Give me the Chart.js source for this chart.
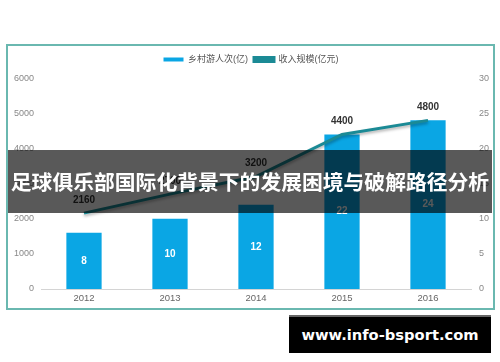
<!DOCTYPE html>
<html>
<head>
<meta charset="utf-8">
<script src="https://cdn.jsdelivr.net/npm/chart.js@4.4.1/dist/chart.umd.min.js"></script>
<style>
  html, body { margin: 0; padding: 0; background: #fff; }
  #wrap { position: relative; width: 500px; height: 362px; overflow: hidden; }
  #frame { position: absolute; left: 6px; top: 44px; width: 485px; height: 262px; border: 2px solid #6ab8b0; }
  #chart { position: absolute; left: 0; top: 0; }
  #banner {
    position: absolute; left: 8px; top: 150px; width: 484px; height: 63px;
    background: rgba(0, 0, 0, 0.65); color: #fff; text-align: center; white-space: nowrap;
    font: 700 20.8px "Noto Sans CJK SC", sans-serif; line-height: 63px;
  }
  #mark {
    position: absolute; left: 289px; top: 315px; width: 202px; height: 36px;
    background: #000; border-top: 2px solid #666; color: #fff; text-align: center;
    font: 700 14.7px "DejaVu Sans", sans-serif; line-height: 36px;
  }
</style>
</head>
<body>
<div id="wrap">
  <div id="frame"></div>
  <canvas id="chart" width="500" height="362"></canvas>
  <div id="banner">足球俱乐部国际化背景下的发展困境与破解路径分析</div>
  <div id="mark">www.info-bsport.com</div>
</div>
<script>
const years = ['2012', '2013', '2014', '2015', '2016'];
const visitors = [8, 10, 12, 22, 24];            // 乡村游人次(亿)
const revenue = [2160, 2700, 3200, 4400, 4800];  // 收入规模(亿元)
const leftTicks = [0, 1000, 2000, 3000, 4000, 5000, 6000];
const rightTicks = [0, 5, 10, 15, 20, 25, 30];

const barColor = '#0aa6e4';
const lineColor = '#1b8a95';

Chart.defaults.font.family = '"Liberation Sans", "Noto Sans CJK SC", sans-serif';

// sombra suave bajo la línea
const lineShadow = {
  id: 'lineShadow',
  beforeDatasetDraw(chart, args) {
    if (args.index !== 1) return;
    const ctx = chart.ctx;
    ctx.save();
    ctx.shadowColor = 'rgba(0,0,0,0.3)';
    ctx.shadowBlur = 3;
    ctx.shadowOffsetY = 2;
  },
  afterDatasetDraw(chart, args) {
    if (args.index !== 1) return;
    chart.ctx.restore();
  }
};

// etiquetas de valores
const valueLabels = {
  id: 'valueLabels',
  afterDatasetsDraw(chart) {
    const ctx = chart.ctx;
    ctx.save();
    ctx.textAlign = 'center';
    ctx.textBaseline = 'middle';
    ctx.font = 'bold 10px "Liberation Sans", sans-serif';
    chart.getDatasetMeta(0).data.forEach((bar, i) => {
      ctx.fillStyle = '#ffffff';
      ctx.fillText(visitors[i], bar.x, (bar.y + bar.base) / 2);
    });
    chart.getDatasetMeta(1).data.forEach((pt, i) => {
      ctx.fillStyle = '#333333';
      ctx.fillText(revenue[i], pt.x, pt.y - 13);
    });
    ctx.restore();
  }
};

new Chart(document.getElementById('chart'), {
  type: 'bar',
  data: {
    labels: years,
    datasets: [{
      label: '乡村游人次(亿)',
      data: visitors,
      yAxisID: 'y1',
      backgroundColor: barColor,
      borderWidth: 0,
      categoryPercentage: 1,
      barPercentage: 0.41,
      order: 2
    }, {
      type: 'line',
      label: '收入规模(亿元)',
      data: revenue,
      yAxisID: 'y',
      borderColor: lineColor,
      backgroundColor: lineColor,
      borderWidth: 3,
      pointRadius: 0,
      tension: 0,
      order: 1
    }]
  },
  options: {
    responsive: false,
    animation: false,
    layout: { padding: { left: 6, right: 4, top: 49, bottom: 51 } },
    plugins: {
      tooltip: { enabled: false },
      legend: {
        position: 'top',
        weight: 3000,
        labels: {
          sort: (a, b) => a.datasetIndex - b.datasetIndex,
          boxWidth: 20,
          boxHeight: 4,
          padding: 6,
          color: '#555',
          font: { size: 9 }
        }
      },
      title: {
        display: true,
        text: '',
        font: { size: 1 },
        padding: { top: 0, bottom: 3 }
      }
    },
    scales: {
      x: {
        grid: { display: false, drawTicks: false, tickLength: 0 },
        border: { display: true, color: '#d4d4d4' },
        ticks: { color: '#666', font: { size: 9.5 }, padding: 4 },
        afterFit: s => { s.height = 22; }
      },
      y: {
        position: 'left',
        min: leftTicks[0],
        max: leftTicks[leftTicks.length - 1],
        grid: { display: false, drawTicks: false, tickLength: 0 },
        border: { display: false },
        ticks: { color: '#888', font: { size: 9 }, padding: 7, callback: v => String(v) },
        afterBuildTicks: s => { s.ticks = leftTicks.map(v => ({ value: v })); },
        afterFit: s => { s.width = 35; }
      },
      y1: {
        position: 'right',
        min: rightTicks[0],
        max: rightTicks[rightTicks.length - 1],
        grid: { display: false, drawTicks: false, tickLength: 0 },
        border: { display: false },
        ticks: { color: '#888', font: { size: 9 }, padding: 8, callback: v => String(v) },
        afterBuildTicks: s => { s.ticks = rightTicks.map(v => ({ value: v })); },
        afterFit: s => { s.width = 25; }
      }
    }
  },
  plugins: [lineShadow, valueLabels]
});
</script>
</body>
</html>
